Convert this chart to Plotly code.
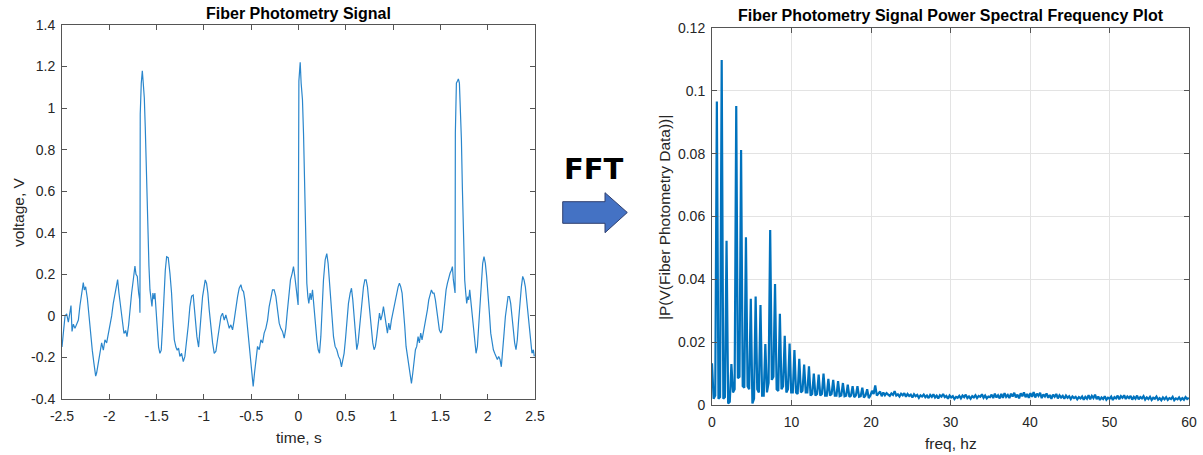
import plotly.graph_objects as go

# ---------------- data ----------------
time_s = [
    -2.500, -2.486, -2.468, -2.451, -2.433, -2.415, -2.405, -2.394, -2.380, -2.363,
    -2.345, -2.327, -2.310, -2.292, -2.275, -2.264, -2.250, -2.232, -2.215, -2.197,
    -2.180, -2.162, -2.144, -2.134, -2.116, -2.099, -2.081, -2.063, -2.046, -2.028,
    -2.011, -1.993, -1.975, -1.958, -1.940, -1.923, -1.912, -1.898, -1.880, -1.863,
    -1.845, -1.827, -1.813, -1.796, -1.782, -1.764, -1.746, -1.729, -1.718, -1.704,
    -1.690, -1.680, -1.676, -1.673, -1.662, -1.651, -1.641, -1.630, -1.620, -1.606,
    -1.592, -1.581, -1.570, -1.560, -1.549, -1.539, -1.528, -1.518, -1.507, -1.493,
    -1.479, -1.465, -1.451, -1.437, -1.423, -1.408, -1.394, -1.377, -1.359, -1.342,
    -1.327, -1.313, -1.296, -1.282, -1.268, -1.254, -1.236, -1.218, -1.201, -1.183,
    -1.165, -1.148, -1.130, -1.113, -1.102, -1.088, -1.074, -1.056, -1.042, -1.028,
    -1.014, -1.000, -0.986, -0.972, -0.958, -0.944, -0.926, -0.908, -0.891, -0.873,
    -0.856, -0.838, -0.820, -0.803, -0.785, -0.768, -0.750, -0.732, -0.715, -0.697,
    -0.680, -0.662, -0.644, -0.627, -0.609, -0.595, -0.581, -0.567, -0.549, -0.532,
    -0.514, -0.496, -0.479, -0.465, -0.451, -0.433, -0.415, -0.398, -0.380, -0.363,
    -0.345, -0.327, -0.310, -0.292, -0.275, -0.257, -0.239, -0.222, -0.204, -0.187,
    -0.169, -0.151, -0.134, -0.120, -0.102, -0.085, -0.067, -0.053, -0.039, -0.025,
    -0.011, -0.004,
    0.004, 0.018, 0.028, 0.042, 0.053, 0.067, 0.077, 0.088, 0.099, 0.109,
    0.123, 0.134, 0.148, 0.162, 0.176, 0.194, 0.208, 0.222, 0.236, 0.250,
    0.264, 0.282, 0.299, 0.313, 0.327, 0.342, 0.356, 0.370, 0.387, 0.405,
    0.423, 0.440, 0.454, 0.468, 0.482, 0.496, 0.511, 0.528, 0.546, 0.560,
    0.574, 0.588, 0.602, 0.616, 0.630, 0.644, 0.658, 0.673, 0.687, 0.701,
    0.715, 0.729, 0.743, 0.757, 0.771, 0.785, 0.799, 0.813, 0.827, 0.842,
    0.856, 0.870, 0.884, 0.898, 0.912, 0.926, 0.940, 0.954, 0.968, 0.982,
    0.996, 1.011, 1.025, 1.039, 1.053, 1.067, 1.081, 1.095, 1.109, 1.123,
    1.137, 1.151, 1.165, 1.180, 1.194, 1.208, 1.222, 1.236, 1.250, 1.264,
    1.278, 1.292, 1.306, 1.320, 1.335, 1.349, 1.363, 1.377, 1.391, 1.405,
    1.419, 1.433, 1.447, 1.461, 1.475, 1.489, 1.504, 1.518, 1.532, 1.546,
    1.560, 1.574, 1.588, 1.602, 1.616, 1.627, 1.637, 1.648, 1.655, 1.658,
    1.669, 1.680, 1.690, 1.701, 1.711, 1.722, 1.732, 1.739, 1.746, 1.757,
    1.768, 1.778, 1.789, 1.799, 1.810, 1.820, 1.835, 1.849, 1.863, 1.877,
    1.891, 1.905, 1.919, 1.933, 1.947, 1.961, 1.975, 1.989, 2.004, 2.018,
    2.032, 2.046, 2.060, 2.074, 2.088, 2.102, 2.116, 2.130, 2.144, 2.158,
    2.173, 2.187, 2.201, 2.215, 2.229, 2.243, 2.257, 2.271, 2.285, 2.299,
    2.313, 2.327, 2.342, 2.356, 2.370, 2.384, 2.398, 2.412, 2.426, 2.440,
    2.454, 2.468, 2.482, 2.493,
]

voltage_V = [
    -0.150, -0.070, 0.000, 0.010, -0.030, 0.020, 0.050, -0.075, -0.040, -0.060,
    -0.040, -0.020, 0.050, 0.110, 0.160, 0.125, 0.140, 0.085, 0.000, -0.100,
    -0.165, -0.230, -0.290, -0.275, -0.230, -0.170, -0.130, -0.165, -0.115, -0.130,
    -0.090, -0.060, 0.000, 0.060, 0.110, 0.140, 0.175, 0.110, 0.045, -0.045,
    -0.085, -0.070, -0.100, -0.045, 0.030, 0.110, 0.175, 0.240, 0.200, 0.190,
    0.110, 0.080, 0.015, 0.970, 1.120, 1.180, 1.120, 1.050, 0.910, 0.620,
    0.400, 0.240, 0.125, 0.080, 0.045, 0.110, 0.080, 0.110, 0.030, -0.070,
    -0.150, -0.180, -0.165, -0.050, 0.110, 0.220, 0.285, 0.280, 0.205, 0.110,
    -0.020, -0.115, -0.150, -0.165, -0.155, -0.195, -0.180, -0.220, -0.195, -0.130,
    -0.045, 0.045, 0.095, 0.100, 0.045, -0.020, -0.100, -0.150, -0.085, 0.013,
    0.093, 0.140, 0.173, 0.157, 0.110, 0.030, -0.067, -0.130, -0.180, -0.170,
    -0.115, -0.067, -0.003, 0.013, -0.020, 0.005, -0.027, -0.060, -0.043, -0.067,
    -0.020, 0.045, 0.093, 0.133, 0.150, 0.125, 0.117, 0.077, -0.003, -0.083,
    -0.180, -0.260, -0.340, -0.275, -0.210, -0.147, -0.163, -0.115, -0.130, -0.083,
    -0.060, -0.020, 0.045, 0.093, 0.125, 0.125, 0.093, 0.030, -0.035, -0.060,
    -0.075, -0.107, -0.060, 0.013, 0.093, 0.173, 0.205, 0.237, 0.190, 0.140,
    0.077, 0.053,
    1.130, 1.220, 1.120, 1.040, 0.880, 0.560, 0.300, 0.157, 0.093, 0.060,
    0.110, 0.077, 0.125, 0.045, -0.035, -0.115, -0.163, -0.180, -0.100, 0.045,
    0.173, 0.270, 0.300, 0.253, 0.173, 0.077, -0.020, -0.100, -0.147, -0.163,
    -0.195, -0.210, -0.245, -0.210, -0.180, -0.115, -0.020, 0.060, 0.110, 0.133,
    0.077, -0.020, -0.100, -0.163, -0.130, -0.067, 0.030, 0.093, 0.140, 0.173,
    0.173, 0.140, 0.077, -0.003, -0.083, -0.130, -0.163, -0.147, -0.100, -0.035,
    0.013, -0.020, 0.005, 0.045, -0.003, -0.050, -0.083, -0.035, -0.067, -0.020,
    0.013, 0.045, 0.077, 0.110, 0.140, 0.157, 0.140, 0.110, 0.045, -0.050,
    -0.147, -0.195, -0.245, -0.290, -0.325, -0.275, -0.210, -0.163, -0.147, -0.100,
    -0.130, -0.083, -0.115, -0.083, -0.050, -0.020, 0.030, 0.077, 0.110, 0.125,
    0.110, 0.110, 0.077, 0.030, -0.020, -0.067, -0.083, -0.067, -0.003, 0.077,
    0.125, 0.157, 0.190, 0.205, 0.220, 0.237, 0.173, 0.125, 0.110, 0.880,
    1.120, 1.130, 1.140, 1.120, 1.000, 0.850, 0.620, 0.460, 0.300, 0.173,
    0.110, 0.060, 0.093, 0.077, 0.125, 0.077, 0.013, -0.083, -0.147, -0.180,
    -0.147, -0.050, 0.077, 0.190, 0.253, 0.285, 0.253, 0.190, 0.110, 0.013,
    -0.083, -0.130, -0.163, -0.180, -0.195, -0.210, -0.195, -0.210, -0.245, -0.180,
    -0.083, -0.003, 0.060, 0.093, 0.093, 0.060, -0.003, -0.083, -0.130, -0.163,
    -0.115, -0.020, 0.077, 0.140, 0.190, 0.173, 0.140, 0.077, -0.020, -0.083,
    -0.130, -0.180, -0.163, -0.195,
]

FREQ_STEP_HZ = 0.2033
spectrum_power = [
    0.0133, 0.0020, 0.0030, 0.0966, 0.0020, 0.0025, 0.1098, 0.0020, 0.0025, 0.0523,
    0.0005, 0.0010, 0.0130, 0.0040, 0.0050, 0.0952, 0.0085, 0.0090, 0.0812, 0.0060,
    0.0055, 0.0534, 0.0060, 0.0050, 0.0338, 0.0005, 0.0020, 0.0345, 0.0050, 0.0040,
    0.0318, 0.0030, 0.0030, 0.0194, 0.0040, 0.0070, 0.0557, 0.0080, 0.0090, 0.0385,
    0.0050, 0.0045, 0.0290, 0.0050, 0.0060, 0.0220, 0.0040, 0.0050, 0.0196, 0.0040,
    0.0040, 0.0175, 0.0040, 0.0035, 0.0147, 0.0040, 0.0045, 0.0129, 0.0040, 0.0040,
    0.0123, 0.0030, 0.0035, 0.0100, 0.0030, 0.0035, 0.0097, 0.0030, 0.0035, 0.0100,
    0.0030, 0.0030, 0.0083, 0.0030, 0.0035, 0.0080, 0.0030, 0.0030, 0.0076, 0.0028,
    0.0030, 0.0070, 0.0028, 0.0030, 0.0065, 0.0026, 0.0030, 0.0060, 0.0025, 0.0030,
    0.0060, 0.0026, 0.0028, 0.0055, 0.0024, 0.0030, 0.0050, 0.0022, 0.0030, 0.0045,
    0.0035, 0.0062, 0.0030, 0.0036, 0.0043, 0.0028, 0.0040, 0.0031, 0.0038, 0.0033,
    0.0029, 0.0037, 0.0032, 0.0044, 0.0030, 0.0034, 0.0027, 0.0036, 0.0031, 0.0038,
    0.0026, 0.0035, 0.0029, 0.0033, 0.0024, 0.0034, 0.0028, 0.0032, 0.0023, 0.0031,
    0.0027, 0.0033, 0.0025, 0.0030, 0.0022, 0.0032, 0.0026, 0.0034, 0.0024, 0.0030,
    0.0021, 0.0031, 0.0027, 0.0035, 0.0025, 0.0029, 0.0020, 0.0030, 0.0024, 0.0028,
    0.0019, 0.0026, 0.0023, 0.0029, 0.0021, 0.0030, 0.0025, 0.0033, 0.0022, 0.0027,
    0.0020, 0.0028, 0.0024, 0.0031, 0.0022, 0.0029, 0.0026, 0.0034, 0.0023, 0.0030,
    0.0021, 0.0027, 0.0025, 0.0033, 0.0022, 0.0036, 0.0024, 0.0031, 0.0021, 0.0035,
    0.0023, 0.0038, 0.0026, 0.0032, 0.0022, 0.0036, 0.0027, 0.0039, 0.0024, 0.0033,
    0.0021, 0.0037, 0.0028, 0.0040, 0.0025, 0.0035, 0.0023, 0.0038, 0.0026, 0.0041,
    0.0024, 0.0036, 0.0029, 0.0039, 0.0022, 0.0034, 0.0027, 0.0037, 0.0023, 0.0032,
    0.0020, 0.0033, 0.0026, 0.0035, 0.0021, 0.0031, 0.0024, 0.0029, 0.0020, 0.0030,
    0.0023, 0.0028, 0.0019, 0.0027, 0.0022, 0.0026, 0.0018, 0.0025, 0.0021, 0.0027,
    0.0017, 0.0026, 0.0020, 0.0031, 0.0018, 0.0029, 0.0022, 0.0033, 0.0019, 0.0027,
    0.0016, 0.0024, 0.0019, 0.0028, 0.0017, 0.0023, 0.0020, 0.0027, 0.0016, 0.0025,
    0.0021, 0.0030, 0.0018, 0.0028, 0.0023, 0.0031, 0.0019, 0.0027, 0.0022, 0.0029,
    0.0017, 0.0026, 0.0020, 0.0030, 0.0018, 0.0025, 0.0021, 0.0028, 0.0017, 0.0024,
    0.0019, 0.0026, 0.0016, 0.0023, 0.0020, 0.0027, 0.0017, 0.0022, 0.0015, 0.0024,
    0.0018, 0.0025, 0.0016, 0.0022, 0.0019, 0.0026, 0.0015, 0.0021, 0.0018, 0.0024,
    0.0016, 0.0022, 0.0017, 0.0025, 0.0019, 0.0023,
]
freq_hz = [round(i * FREQ_STEP_HZ, 4) for i in range(len(spectrum_power))]

left_xtick_vals = [-2.5, -2, -1.5, -1, -0.5, 0, 0.5, 1, 1.5, 2, 2.5]
left_xtick_text = ["-2.5", "-2", "-1.5", "-1", "-0.5", "0", "0.5", "1", "1.5", "2", "2.5"]
left_ytick_vals = [-0.4, -0.2, 0, 0.2, 0.4, 0.6, 0.8, 1.0, 1.2, 1.4]
left_ytick_text = ["-0.4", "-0.2", "0", "0.2", "0.4", "0.6", "0.8", "1", "1.2", "1.4"]
right_xtick_vals = [0, 10, 20, 30, 40, 50, 60]
right_xtick_text = ["0", "10", "20", "30", "40", "50", "60"]
right_ytick_vals = [0, 0.02, 0.04, 0.06, 0.08, 0.10, 0.12]
right_ytick_text = ["0", "0.02", "0.04", "0.06", "0.08", "0.1", "0.12"]

# ---------------- layout helpers ----------------
W, H = 1203, 455
FONT = "Liberation Sans, Arial, sans-serif"
AX_COLOR = "#555555"
TXT_COLOR = "#262626"


def px(x):
    return x / W


def py(y):
    return 1 - y / H


def axis(domain, rng, tv, tt, anchor, grid=False, standoff=3):
    return dict(
        domain=domain, range=rng, anchor=anchor, automargin=False,
        tickmode="array", tickvals=tv, ticktext=tt,
        ticks="inside", ticklen=5, tickwidth=1, tickcolor=AX_COLOR,
        showline=True, linecolor=AX_COLOR, linewidth=1, mirror="ticks",
        showgrid=grid, gridcolor="#e3e3e3", gridwidth=1,
        zeroline=False, fixedrange=True, ticklabelstandoff=standoff,
        tickfont=dict(family=FONT, size=14, color=TXT_COLOR),
    )


fig = go.Figure()
fig.add_trace(go.Scatter(
    x=time_s, y=voltage_V, mode="lines", xaxis="x", yaxis="y",
    line=dict(color="#2a86cc", width=1.2), showlegend=False, hoverinfo="skip"))
fig.add_trace(go.Scatter(
    x=freq_hz, y=spectrum_power, mode="lines", xaxis="x2", yaxis="y2",
    line=dict(color="#0072BD", width=2.2), showlegend=False, hoverinfo="skip"))

# arrow (decoration) in pixel coordinates
arrow_pts = [(562.7, 201.7), (605, 201.7), (605, 192.7), (627.3, 212.5),
             (605, 232.7), (605, 223.3), (562.7, 223.3)]
arrow_path = "M " + " L ".join(f"{px(x):.5f},{py(y):.5f}" for x, y in arrow_pts) + " Z"

fig.update_layout(
    width=W, height=H,
    margin=dict(l=0, r=0, t=0, b=0, pad=0, autoexpand=False),
    paper_bgcolor="white", plot_bgcolor="white",
    xaxis=axis([px(62), px(535)], [-2.5, 2.5], left_xtick_vals, left_xtick_text, "y", standoff=4),
    yaxis=axis([py(399), py(25)], [-0.4, 1.4], left_ytick_vals, left_ytick_text, "x", standoff=3),
    xaxis2=axis([px(712), px(1189)], [0, 60], right_xtick_vals, right_xtick_text, "y2", grid=True, standoff=4),
    yaxis2=axis([py(405), py(28)], [0, 0.12], right_ytick_vals, right_ytick_text, "x2", grid=True, standoff=3),
    shapes=[dict(type="path", path=arrow_path, xref="paper", yref="paper",
                 fillcolor="#4472C4", line=dict(color="#2F3F6F", width=1))],
    annotations=[
        dict(text="<b>Fiber Photometry Signal</b>", x=px(298.5), y=py(13),
             xref="paper", yref="paper", showarrow=False, xanchor="center", yanchor="middle",
             font=dict(family=FONT, size=16, color="black")),
        dict(text="<b>Fiber Photometry Signal Power Spectral Frequency Plot</b>", x=px(951), y=py(16),
             xref="paper", yref="paper", showarrow=False, xanchor="center", yanchor="middle",
             font=dict(family=FONT, size=16, color="black")),
        dict(text="time, s", x=px(298.5), y=py(437), xref="paper", yref="paper",
             showarrow=False, xanchor="center", yanchor="middle",
             font=dict(family=FONT, size=15.5, color=TXT_COLOR)),
        dict(text="freq, hz", x=px(950.5), y=py(443), xref="paper", yref="paper",
             showarrow=False, xanchor="center", yanchor="middle",
             font=dict(family=FONT, size=15.5, color=TXT_COLOR)),
        dict(text="voltage, V", x=px(18), y=py(212), xref="paper", yref="paper",
             showarrow=False, xanchor="center", yanchor="middle", textangle=-90,
             font=dict(family=FONT, size=15.5, color=TXT_COLOR)),
        dict(text="|P(V(Fiber Photometry Data))|", x=px(664), y=py(218), xref="paper", yref="paper",
             showarrow=False, xanchor="center", yanchor="middle", textangle=-90,
             font=dict(family=FONT, size=15.5, color=TXT_COLOR)),
        dict(text="<b>FFT</b>", x=px(593.5), y=py(169), xref="paper", yref="paper",
             showarrow=False, xanchor="center", yanchor="middle",
             font=dict(family="DejaVu Sans, sans-serif", size=29, color="black")),
    ],
)

fig.write_html("out.html")
